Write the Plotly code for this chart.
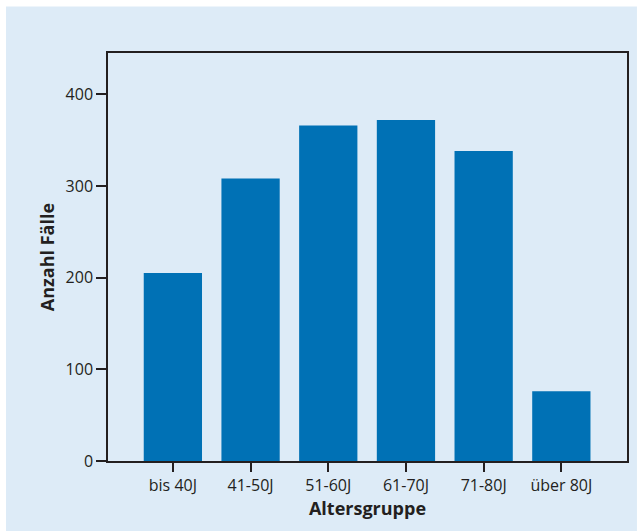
import plotly.graph_objects as go

categories = ["bis 40J", "41-50J", "51-60J", "61-70J", "71-80J", "über 80J"]
counts = [205, 308, 366, 372, 338, 76]
y_ticks = [0, 100, 200, 300, 400]

BAR = "#0071b5"
BG = "#ddebf7"
FONT = "Open Sans, Noto Sans, sans-serif"

fig = go.Figure(go.Bar(x=categories, y=counts, marker=dict(color=BAR, line=dict(width=0)), width=0.75))

L, R, T, B = 107.5, 10, 52.5, 70
W, H = 639, 531
pw, ph = W - L - R, H - T - B

fig.add_shape(type="rect", xref="paper", yref="paper", layer="below",
              x0=(5 - L) / pw, x1=(W - L) / pw, y0=-(B) / ph, y1=(H - B - 6) / ph,
              fillcolor=BG, line=dict(width=0))

fig.update_layout(
    width=W, height=H,
    margin=dict(l=L, r=R, t=T, b=B),
    paper_bgcolor="white", plot_bgcolor="rgba(0,0,0,0)",
    font=dict(family=FONT, size=16, color="#231f20"),
    showlegend=False, bargap=0.25,
    xaxis=dict(range=[-0.835, 5.845], showline=True, linecolor="#231f20", linewidth=1.5, mirror=True,
               ticks="outside", ticklen=9, tickcolor="#231f20", tickwidth=1.5, showgrid=False,
               tickfont=dict(size=16),
               title=dict(text="<b>Altersgruppe</b>", font=dict(size=18), standoff=7)),
    yaxis=dict(range=[0, 445], tickvals=y_ticks, showline=True, linecolor="#231f20", linewidth=1.5, mirror=True,
               ticks="outside", ticklen=10, tickcolor="#231f20", tickwidth=1.5, showgrid=False, zeroline=False,
               tickfont=dict(size=16),
               title=dict(text="<b>Anzahl Fälle</b>", font=dict(size=18), standoff=6)),
)

fig.write_html("out.html", config={"displayModeBar": False},
               post_script="document.body.style.margin='0';document.body.style.padding='0';")
